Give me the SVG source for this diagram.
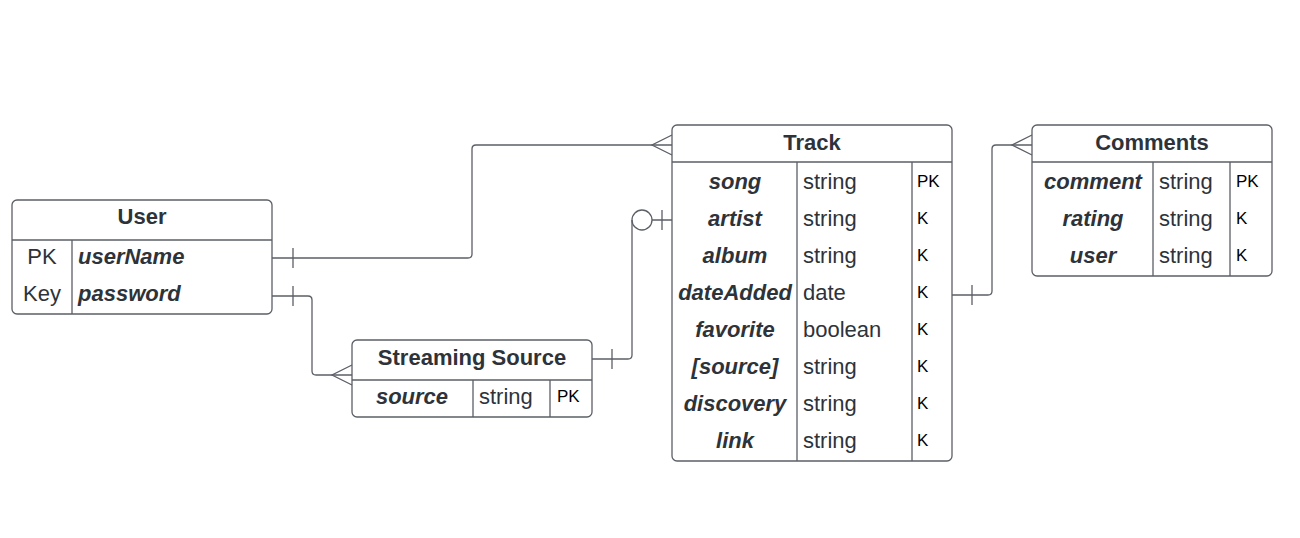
<svg xmlns="http://www.w3.org/2000/svg" width="1300" height="538" viewBox="0 0 1300 538">
<style>
.box{fill:#fff;stroke:#5b5f66;stroke-width:1.3}
.ln{fill:none;stroke:#5b5f66;stroke-width:1.3}
.t{font-family:"Liberation Sans",Arial,sans-serif;fill:#2e333a}
.title{font-size:22px;font-weight:bold;text-anchor:middle}
.fn{font-size:22px;font-weight:bold;font-style:italic}
.c{text-anchor:middle}
.ty{font-size:22px}
.k{font-size:17px;fill:#000}
</style>
<rect width="1300" height="538" fill="#fff"/>
<g id="connectors">
  <!-- User.userName to Track -->
  <path class="ln" d="M272,258 H468 Q472,258 472,254 V149 Q472,145 476,145 H672"/>
  <path class="ln" d="M293,248 V268"/>
  <path class="ln" d="M672,135 L652,145 L672,155"/>
  <!-- User.password to Streaming Source -->
  <path class="ln" d="M272,296 H308 Q312,296 312,300 V371 Q312,375 316,375 H352"/>
  <path class="ln" d="M293,286 V306"/>
  <path class="ln" d="M352,365 L332,375 L352,385"/>
  <!-- Streaming Source to Track -->
  <path class="ln" d="M592,359 H628 Q632,359 632,355 V220"/>
  <circle class="ln" cx="642" cy="220" r="10"/>
  <path class="ln" d="M652,220 H672 M662,210 V230"/>
  <path class="ln" d="M612,349 V369"/>
  <!-- Track to Comments -->
  <path class="ln" d="M952,295 H988 Q992,295 992,291 V149 Q992,145 996,145 H1032"/>
  <path class="ln" d="M972,285 V305"/>
  <path class="ln" d="M1032,135 L1012,145 L1032,155"/>
</g>
<g id="user">
  <rect class="box" x="12" y="200" width="260" height="114" rx="5"/>
  <path class="ln" d="M12,240 H272 M72,240 V314"/>
  <text class="t title" x="142" y="224">User</text>
  <text class="t ty c" x="42" y="264">PK</text>
  <text class="t fn" x="78" y="264">userName</text>
  <text class="t ty c" x="42" y="301">Key</text>
  <text class="t fn" x="78" y="301">password</text>
</g>
<g id="streaming-source">
  <rect class="box" x="352" y="340" width="240" height="77" rx="5"/>
  <path class="ln" d="M352,380 H592 M473,380 V417 M550,380 V417"/>
  <text class="t title" x="472" y="365">Streaming Source</text>
  <text class="t fn c" x="412" y="404">source</text>
  <text class="t ty" x="479" y="404">string</text>
  <text class="t k" x="557" y="402">PK</text>
</g>
<g id="track">
  <rect class="box" x="672" y="125" width="280" height="336" rx="5"/>
  <path class="ln" d="M672,162 H952 M797,162 V461 M912,162 V461"/>
  <text class="t title" x="812" y="150">Track</text>
  <text class="t fn c" x="735" y="189">song</text>
  <text class="t ty" x="803" y="189">string</text>
  <text class="t k" x="917" y="187">PK</text>
  <text class="t fn c" x="735" y="226">artist</text>
  <text class="t ty" x="803" y="226">string</text>
  <text class="t k" x="917" y="224">K</text>
  <text class="t fn c" x="735" y="263">album</text>
  <text class="t ty" x="803" y="263">string</text>
  <text class="t k" x="917" y="261">K</text>
  <text class="t fn c" x="735" y="300">dateAdded</text>
  <text class="t ty" x="803" y="300">date</text>
  <text class="t k" x="917" y="298">K</text>
  <text class="t fn c" x="735" y="337">favorite</text>
  <text class="t ty" x="803" y="337">boolean</text>
  <text class="t k" x="917" y="335">K</text>
  <text class="t fn c" x="735" y="374">[source]</text>
  <text class="t ty" x="803" y="374">string</text>
  <text class="t k" x="917" y="372">K</text>
  <text class="t fn c" x="735" y="411">discovery</text>
  <text class="t ty" x="803" y="411">string</text>
  <text class="t k" x="917" y="409">K</text>
  <text class="t fn c" x="735" y="448">link</text>
  <text class="t ty" x="803" y="448">string</text>
  <text class="t k" x="917" y="446">K</text>
</g>
<g id="comments">
  <rect class="box" x="1032" y="125" width="240" height="151" rx="5"/>
  <path class="ln" d="M1032,162 H1272 M1153,162 V276 M1230,162 V276"/>
  <text class="t title" x="1152" y="150">Comments</text>
  <text class="t fn c" x="1093" y="189">comment</text>
  <text class="t ty" x="1159" y="189">string</text>
  <text class="t k" x="1236" y="187">PK</text>
  <text class="t fn c" x="1093" y="226">rating</text>
  <text class="t ty" x="1159" y="226">string</text>
  <text class="t k" x="1236" y="224">K</text>
  <text class="t fn c" x="1093" y="263">user</text>
  <text class="t ty" x="1159" y="263">string</text>
  <text class="t k" x="1236" y="261">K</text>
</g>
</svg>
